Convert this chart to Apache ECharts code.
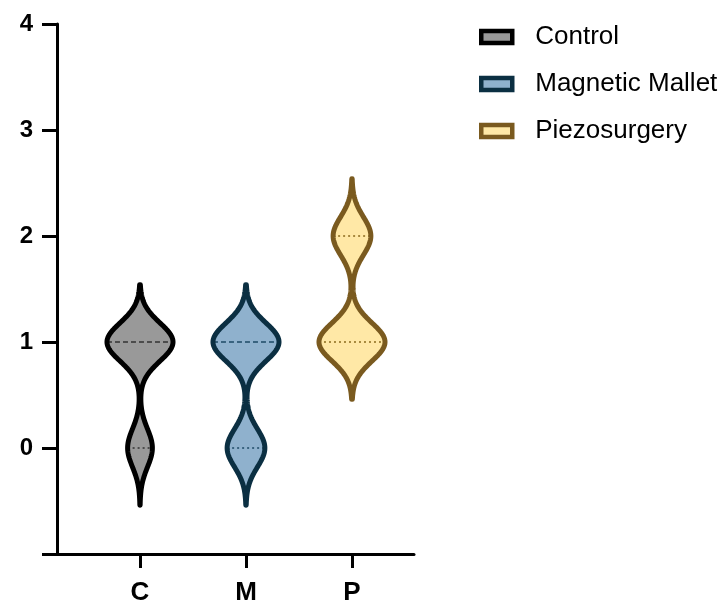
<!DOCTYPE html>
<html>
<head>
<meta charset="utf-8">
<script src="https://cdn.jsdelivr.net/npm/echarts@6/dist/echarts.min.js"></script>
<style>
	html, body { margin: 0; padding: 0; background: #fff; }
	#main { width: 727px; height: 607px; }
</style>
</head>
<body>
<div id="main"></div>
<script>
// categories and groups
var categories = ['C', 'M', 'P'];
var groupNames = ['Control', 'Magnetic Mallet', 'Piezosurgery'];

// scores per group (n = 11)
var controlScores = [0, 0, 0, 1, 1, 1, 1, 1, 1, 1, 1];
var malletScores = [0, 0, 0, 0, 1, 1, 1, 1, 1, 1, 1];
var piezoScores = [1, 1, 1, 1, 1, 1, 1, 2, 2, 2, 2];

// median and quartile lines
var medians = [1, 1, 1];
var quartiles = [[0, 1], [0, 1], [1, 2]];

// y tick labels
var yTicks = [-1, 0, 1, 2, 3, 4];

var fillColors = ['#999999', '#8fb1cd', '#ffe8a6'];
var edgeColors = ['#000000', '#0b2f42', '#7a5a1f'];
var lineColors = ['#333333', '#1e4a66', '#8a6a1c'];
var medianDash = [[5, 3], [5, 3], [2, 3]];

var allScores = [controlScores, malletScores, piezoScores];
var bw = 0.18;
var maxHalfWidth = 33;

function density(scores, y) {
	var s = 0;
	for (var i = 0; i < scores.length; i++) {
		var d = (y - scores[i]) / bw;
		s += Math.exp(-0.5 * d * d);
	}
	return s;
}

function renderViolin(params, api) {
	var g = api.value(1);
	var xpos = api.value(0);
	var scores = allScores[g];
	var lo = Math.min.apply(null, scores) - 3 * bw;
	var hi = Math.max.apply(null, scores) + 3 * bw;
	var steps = 160;
	var ys = [], ds = [], dmax = 0;
	for (var i = 0; i <= steps; i++) {
		var y = lo + (hi - lo) * i / steps;
		var d = density(scores, y);
		ys.push(y);
		ds.push(d);
		if (d > dmax) dmax = d;
	}
	var cx = api.coord([xpos, 0])[0];
	var right = [], left = [];
	for (var j = 0; j <= steps; j++) {
		var py = api.coord([xpos, ys[j]])[1];
		var w = ds[j] / dmax * maxHalfWidth;
		right.push([cx + w, py]);
		left.unshift([cx - w, py]);
	}
	var pts = right.concat(left);

	var children = [{
		type: 'polygon',
		shape: { points: pts },
		style: { fill: fillColors[g], stroke: null }
	}];

	function hLine(v, dash) {
		var w = density(scores, v) / dmax * maxHalfWidth;
		var py = api.coord([xpos, v])[1];
		children.push({
			type: 'line',
			shape: { x1: cx - w, y1: py, x2: cx + w, y2: py },
			style: { stroke: lineColors[g], lineWidth: 1.6, lineDash: dash }
		});
	}
	quartiles[g].forEach(function(q) {
		if (q !== medians[g]) hLine(q, [2, 3]);
	});
	hLine(medians[g], medianDash[g]);

	children.push({
		type: 'polygon',
		shape: { points: pts },
		style: { fill: null, stroke: edgeColors[g], lineWidth: 5, lineJoin: 'round', lineCap: 'round' }
	});
	return { type: 'group', children: children };
}

var chart = echarts.init(document.getElementById('main'));

var series = groupNames.map(function(name, i) {
	return {
		name: name,
		type: 'custom',
		renderItem: renderViolin,
		itemStyle: { color: fillColors[i], borderColor: edgeColors[i], borderWidth: 4 },
		data: [[i + 1, i]],
		encode: { x: 0, y: 1 },
		silent: true
	};
});

chart.setOption({
	animation: false,
	textStyle: { fontFamily: 'Arial, "Liberation Sans", sans-serif' },
	legend: {
		orient: 'vertical',
		left: 479,
		top: 22,
		padding: 0,
		itemGap: 17,
		itemWidth: 31,
		itemHeight: 12,
		icon: 'rect',
		selectedMode: false,
		textStyle: { fontSize: 26, color: '#000', lineHeight: 30, padding: [0, 0, 0, 18] },
		data: groupNames.map(function(name, i) {
			return {
				name: name,
				itemStyle: { color: fillColors[i], borderColor: edgeColors[i], borderWidth: 4.5 }
			};
		})
	},
	grid: { left: 57, right: 313, top: 24, bottom: 53, containLabel: false },
	xAxis: {
		type: 'value',
		min: 0.217,
		max: 3.585,
		splitLine: { show: false },
		axisLine: { show: true, onZero: false, lineStyle: { color: '#000', width: 3 } },
		axisTick: { show: true, length: 14, customValues: [1, 2, 3], lineStyle: { color: '#000', width: 3 } },
		axisLabel: {
			customValues: [1, 2, 3],
			margin: 26,
			fontSize: 26,
			fontWeight: 'bold',
			color: '#000',
			formatter: function(v) { return categories[Math.round(v) - 1]; }
		}
	},
	yAxis: {
		type: 'value',
		min: yTicks[0],
		max: yTicks[yTicks.length - 1],
		interval: 1,
		splitLine: { show: false },
		axisLine: { show: true, lineStyle: { color: '#000', width: 3 } },
		axisTick: { show: true, length: 15, lineStyle: { color: '#000', width: 3 } },
		axisLabel: {
			margin: 24,
			fontSize: 24,
			fontWeight: 'bold',
			color: '#000',
			formatter: function(v) { return v < 0 ? '' : String(v); }
		}
	},
	series: series
});
</script>
</body>
</html>
